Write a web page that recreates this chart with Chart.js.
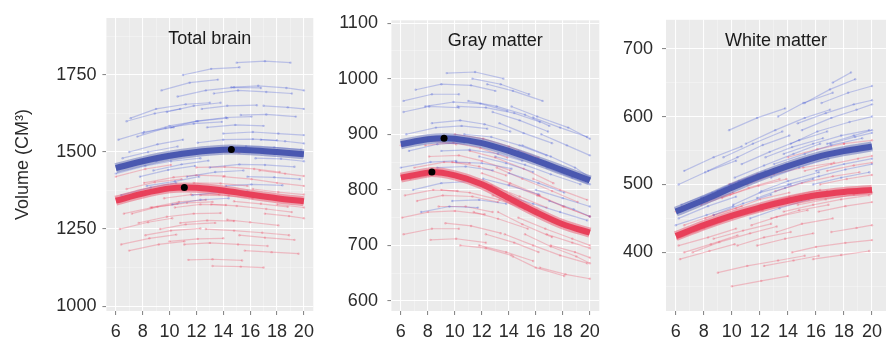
<!DOCTYPE html>
<html>
<head>
<meta charset="utf-8">
<title>Brain volume trajectories</title>
<script src="https://cdn.jsdelivr.net/npm/chart.js@4.4.1/dist/chart.umd.min.js"></script>
<style>
  html, body { margin: 0; padding: 0; background: #fff; }
  body { width: 886px; height: 341px; overflow: hidden; position: relative; }
  .panel { position: absolute; top: 0; }
</style>
</head>
<body>
<div class="panel" style="left:0"><canvas id="tb" width="320" height="341"></canvas></div>
<div class="panel" style="left:330px"><canvas id="gm" width="276" height="341"></canvas></div>
<div class="panel" style="left:610px"><canvas id="wm" width="290" height="341"></canvas></div>
<script>
const AGES = [6, 8, 10, 12, 14, 16, 18, 20];
const X_TICKS = [6, 8, 10, 12, 14, 16, 18, 20];
const X_MINOR = [7, 9, 11, 13, 15, 17, 19];

// Total brain
const tbTicks = [1000, 1250, 1500, 1750];
const tbMinor = [1125, 1375, 1625, 1875];
const tbMale = [1448, 1470, 1488, 1500, 1507, 1506, 1500, 1493];
const tbFemale = [1342, 1365, 1382, 1384, 1375, 1362, 1350, 1340];
const tbMalePeak = [14.6, 1508];
const tbFemalePeak = [11.1, 1385];
// subjects: age, volume, age, volume ...
const tbMaleSubjects = [
  [6.2,1540, 8.1,1565, 10.3,1580],
  [7.1,1610, 9.0,1640, 11.2,1655, 13.0,1660],
  [9.4,1700, 11.5,1725, 13.6,1735],
  [11.0,1750, 13.1,1770, 15.2,1775],
  [13.3,1690, 15.1,1700, 17.2,1695, 19.1,1690],
  [6.0,1430, 8.2,1455, 10.1,1470, 12.3,1480],
  [8.3,1390, 10.4,1405, 12.2,1420],
  [10.1,1580, 12.0,1600, 14.2,1612, 16.1,1615],
  [12.4,1640, 14.3,1650, 16.5,1652],
  [14.0,1560, 16.2,1565, 18.1,1560, 20.0,1555],
  [6.4,1360, 8.6,1385, 10.5,1400],
  [9.0,1470, 11.1,1490, 13.2,1502, 15.0,1505],
  [11.3,1420, 13.4,1435, 15.5,1440],
  [13.0,1450, 15.2,1460, 17.1,1458, 19.3,1452],
  [15.3,1620, 17.2,1622, 19.4,1615],
  [7.0,1500, 9.1,1525, 11.0,1540],
  [10.2,1330, 12.3,1345, 14.4,1350],
  [12.1,1530, 14.0,1540, 16.2,1542, 18.0,1538],
  [16.4,1480, 18.3,1478, 20.0,1470],
  [8.0,1560, 10.0,1585, 12.1,1600, 14.3,1610],
  [14.2,1390, 16.1,1395, 18.4,1392],
  [15.0,1790, 17.1,1795, 19.0,1790],
  [17.0,1650, 18.8,1645, 20.0,1640],
  [6.8,1600, 8.9,1625, 10.8,1640],
  [6.5,1480, 8.4,1500, 10.6,1518],
  [7.6,1550, 9.7,1578, 11.8,1592, 13.9,1598],
  [8.8,1440, 10.9,1460, 12.9,1472],
  [10.6,1680, 12.7,1700, 14.8,1710, 16.8,1708],
  [12.8,1580, 14.9,1588, 17.0,1585],
  [14.6,1710, 16.6,1715, 18.7,1708, 20.0,1700],
  [16.8,1540, 18.6,1535, 20.0,1528],
  [9.8,1630, 11.8,1650, 13.8,1660],
  [11.7,1360, 13.8,1370, 15.8,1372],
  [13.6,1510, 15.7,1518, 17.8,1515, 19.8,1508],
  [7.8,1420, 9.9,1442, 11.9,1455],
  [15.8,1420, 17.8,1418, 19.7,1412]
];
const tbFemaleSubjects = [
  [6.0,1420, 8.2,1445, 10.1,1458],
  [7.2,1300, 9.1,1322, 11.3,1335, 13.2,1338],
  [9.3,1250, 11.2,1265, 13.4,1270],
  [11.1,1200, 13.0,1205, 15.1,1200, 17.3,1195],
  [6.3,1250, 8.4,1272, 10.2,1285],
  [8.1,1400, 10.3,1418, 12.0,1425, 14.1,1422],
  [10.4,1320, 12.3,1330, 14.2,1328],
  [12.0,1450, 14.1,1452, 16.3,1445, 18.2,1435],
  [14.3,1280, 16.0,1272, 18.1,1262],
  [16.2,1380, 18.1,1370, 20.0,1362],
  [7.0,1180, 9.2,1200, 11.1,1210],
  [9.0,1480, 11.1,1495, 13.3,1500, 15.2,1498],
  [11.4,1150, 13.2,1152, 15.4,1148],
  [13.1,1330, 15.0,1325, 17.2,1315, 19.1,1305],
  [15.2,1230, 17.1,1222, 19.3,1215],
  [6.1,1340, 8.0,1362, 10.0,1378, 12.2,1384],
  [10.0,1210, 12.1,1218, 14.0,1220],
  [12.3,1360, 14.4,1358, 16.2,1350],
  [14.0,1420, 16.1,1412, 18.0,1400, 20.0,1390],
  [17.1,1300, 18.9,1292, 20.0,1285],
  [8.2,1230, 10.1,1245, 12.3,1252],
  [13.2,1130, 15.3,1128, 17.0,1125],
  [6.6,1300, 8.7,1320, 10.6,1332],
  [6.8,1380, 8.9,1402, 10.9,1412],
  [7.7,1270, 9.8,1290, 11.8,1300, 13.8,1302],
  [9.6,1350, 11.6,1362, 13.7,1362],
  [11.8,1400, 13.8,1398, 15.8,1390],
  [12.7,1250, 14.8,1245, 16.9,1238, 18.9,1230],
  [14.8,1340, 16.8,1332, 18.8,1322],
  [16.7,1440, 18.6,1430, 20.0,1422],
  [8.6,1320, 10.7,1338, 12.7,1345],
  [10.8,1270, 12.8,1278, 14.8,1276],
  [15.6,1180, 17.6,1175, 19.6,1170],
  [6.4,1200, 8.5,1220, 10.5,1232],
  [18.0,1330, 20.0,1320]
];

// Gray matter
const gmTicks = [600, 700, 800, 900, 1000, 1100];
const gmMinor = [650, 750, 850, 950, 1050];
const gmMale = [882, 891, 892, 884, 870, 853, 835, 817];
const gmFemale = [822, 831, 826, 810, 785, 760, 738, 723];
const gmMalePeak = [9.2, 893];
const gmFemalePeak = [8.3, 832];
const gmMaleSubjects = [
  [6.2,940, 8.1,950, 10.3,948],
  [7.1,980, 9.0,990, 11.2,988, 13.0,978],
  [9.4,1010, 11.5,1012, 13.6,1000],
  [11.0,960, 13.1,950, 15.2,935, 17.0,915],
  [13.3,920, 15.1,902, 17.2,884],
  [15.0,880, 17.1,860, 18.9,840, 20.0,822],
  [6.0,840, 8.2,850, 10.1,852],
  [8.3,920, 10.4,925, 12.2,918, 14.1,905],
  [10.1,850, 12.0,848, 14.2,838],
  [12.4,990, 14.3,978, 16.5,960],
  [14.0,830, 16.2,812, 18.1,795],
  [16.4,900, 18.3,880, 20.0,862],
  [6.9,800, 9.0,812, 11.0,815],
  [9.0,870, 11.1,872, 13.2,865, 15.0,852],
  [11.3,1000, 13.4,990, 15.5,972],
  [13.0,860, 15.2,845, 17.1,828, 19.3,810],
  [17.0,780, 18.8,765, 20.0,752],
  [6.4,900, 8.6,912, 10.5,915, 12.4,910],
  [10.2,950, 12.3,948, 14.4,938, 16.3,922],
  [12.1,820, 14.0,808, 16.2,792],
  [14.2,950, 16.1,932, 18.4,912, 20.0,892],
  [16.0,800, 18.0,785, 20.0,770],
  [7.5,760, 9.6,770, 11.7,768],
  [6.6,870, 8.7,882, 10.7,885],
  [7.8,950, 9.9,958, 11.9,955, 13.9,942],
  [8.7,840, 10.8,842, 12.8,835],
  [10.7,900, 12.7,895, 14.8,880, 16.8,862],
  [12.8,940, 14.8,925, 16.9,905],
  [14.7,870, 16.7,850, 18.7,832, 20.0,820],
  [16.8,840, 18.7,822, 20.0,810],
  [9.8,780, 11.8,782, 13.8,775],
  [11.8,860, 13.8,848, 15.8,832],
  [13.7,790, 15.8,775, 17.8,760, 19.8,745],
  [6.2,960, 8.3,972, 10.3,972],
  [15.8,930, 17.8,912, 19.8,895]
];
const gmFemaleSubjects = [
  [6.0,880, 8.2,888, 10.1,882],
  [7.2,780, 9.1,790, 11.3,788, 13.2,778],
  [9.3,740, 11.2,735, 13.4,722],
  [11.1,870, 13.0,858, 15.1,838, 17.3,812],
  [13.2,760, 15.0,738, 17.2,715],
  [15.2,720, 17.1,698, 19.0,680, 20.0,668],
  [6.3,790, 8.4,800, 10.2,798],
  [8.1,860, 10.3,862, 12.0,852, 14.1,835],
  [10.4,700, 12.3,695, 14.2,682],
  [12.0,830, 14.1,812, 16.3,790],
  [14.3,680, 16.0,660, 18.1,645],
  [16.2,790, 18.1,770, 20.0,752],
  [7.0,840, 9.2,850, 11.1,848],
  [9.0,800, 11.1,795, 13.3,782, 15.2,765],
  [11.4,760, 13.2,748, 15.4,730],
  [13.1,840, 15.0,820, 17.2,798, 19.1,778],
  [17.1,700, 18.9,688, 20.0,678],
  [6.1,750, 8.0,760, 10.0,762, 12.2,756],
  [10.0,900, 12.1,892, 14.0,878, 16.2,858],
  [12.3,720, 14.4,705, 16.2,688],
  [14.0,810, 16.1,790, 18.0,770, 20.0,752],
  [16.3,660, 18.2,648, 20.0,640],
  [8.2,710, 10.1,712, 12.3,705],
  [6.7,820, 8.8,828, 10.8,824],
  [7.8,880, 9.9,885, 11.9,875, 13.9,858],
  [8.8,770, 10.8,770, 12.8,760],
  [10.7,820, 12.7,808, 14.8,788, 16.8,768],
  [12.8,790, 14.8,770, 16.9,750],
  [14.7,750, 16.7,730, 18.7,712, 20.0,700],
  [16.8,720, 18.7,705, 20.0,695],
  [9.8,850, 11.8,842, 13.8,826],
  [11.8,700, 13.8,688, 15.8,672],
  [13.7,720, 15.8,700, 17.8,682, 19.8,668],
  [6.2,720, 8.3,730, 10.3,730],
  [15.8,820, 17.8,800, 19.8,782]
];

// White matter
const wmTicks = [400, 500, 600, 700];
const wmMinor = [350, 450, 550, 650];
const wmMale = [460, 477, 495, 512, 527, 540, 549, 556];
const wmFemale = [424, 440, 454, 466, 476, 484, 489, 492];
const wmMaleSubjects = [
  [6.2,500, 8.1,518, 10.3,535],
  [7.1,470, 9.0,490, 11.2,508, 13.0,522],
  [9.4,540, 11.5,560, 13.6,578],
  [11.0,560, 13.1,580, 15.2,598, 17.0,610],
  [13.3,600, 15.1,620, 17.2,635],
  [15.0,580, 17.1,598, 18.9,610, 20.0,618],
  [6.0,440, 8.2,455, 10.1,468],
  [8.3,520, 10.4,540, 12.2,558, 14.1,572],
  [10.1,470, 12.0,488, 14.2,500],
  [12.4,540, 14.3,555, 16.5,568],
  [14.0,500, 16.2,512, 18.1,522, 20.0,530],
  [16.4,620, 18.3,635, 20.0,645],
  [6.9,430, 9.0,448, 11.0,462],
  [9.0,490, 11.1,508, 13.2,522, 15.0,535],
  [11.3,450, 13.4,465, 15.5,478],
  [13.0,530, 15.2,545, 17.1,558, 19.3,568],
  [17.0,560, 18.8,570, 20.0,576],
  [6.4,470, 8.6,488, 10.5,505, 12.4,520],
  [10.2,510, 12.3,528, 14.4,545, 16.3,560],
  [12.1,490, 14.0,505, 16.2,518],
  [14.2,560, 16.1,578, 18.4,592, 20.0,600],
  [16.0,520, 18.0,530, 20.0,538],
  [17.2,650, 18.5,665],
  [15.2,620, 17.0,640, 18.8,655],
  [6.6,520, 8.7,540, 10.7,556],
  [7.8,480, 9.9,500, 11.9,515, 13.9,530],
  [8.7,455, 10.8,472, 12.8,485],
  [10.7,530, 12.7,548, 14.8,565, 16.8,578],
  [12.8,510, 14.8,525, 16.9,538],
  [14.7,590, 16.7,605, 18.7,618, 20.0,624],
  [16.8,560, 18.7,572, 20.0,580],
  [9.8,580, 11.8,598, 13.8,612],
  [11.8,480, 13.8,495, 15.8,508],
  [13.7,545, 15.8,560, 17.8,572, 19.8,580],
  [6.2,450, 8.3,468, 10.3,482],
  [15.8,500, 17.8,510, 19.8,518]
];
const wmFemaleSubjects = [
  [6.0,460, 8.2,475, 10.1,488],
  [7.2,400, 9.1,415, 11.3,428, 13.2,438],
  [9.3,480, 11.2,495, 13.4,508],
  [11.1,500, 13.0,515, 15.1,525, 17.3,532],
  [13.2,430, 15.0,442, 17.2,450],
  [15.2,520, 17.1,530, 19.0,538, 20.0,542],
  [6.3,390, 8.4,402, 10.2,412],
  [8.1,450, 10.3,465, 12.0,478, 14.1,488],
  [10.4,410, 12.3,422, 14.2,430],
  [12.0,470, 14.1,482, 16.3,492],
  [14.3,400, 16.0,408, 18.1,414, 20.0,418],
  [16.2,460, 18.1,468, 20.0,474],
  [7.0,430, 9.2,445, 11.1,458],
  [9.0,370, 11.1,380, 13.3,388, 15.2,395],
  [11.4,440, 13.2,452, 15.4,462],
  [13.1,490, 15.0,502, 17.2,512, 19.1,518],
  [17.1,430, 18.9,436, 20.0,440],
  [6.1,420, 8.0,435, 10.0,450, 12.2,462],
  [10.0,350, 12.1,358, 14.0,365],
  [12.3,380, 14.4,388, 16.2,395],
  [14.0,540, 16.1,552, 18.0,560],
  [16.3,500, 18.2,508, 20.0,514],
  [18.0,560, 20.0,565],
  [6.6,400, 8.5,412, 10.4,425],
  [6.6,440, 8.7,455, 10.7,468],
  [7.8,470, 9.9,485, 11.9,498, 13.9,508],
  [8.7,420, 10.8,432, 12.8,442],
  [10.7,460, 12.7,472, 14.8,482, 16.8,490],
  [12.8,450, 14.8,462, 16.9,470],
  [14.7,470, 16.7,478, 18.7,485, 20.0,488],
  [16.8,520, 18.7,528, 20.0,532],
  [9.8,500, 11.8,515, 13.8,525],
  [11.8,410, 13.8,420, 15.8,428],
  [13.7,460, 15.8,470, 17.8,478, 19.8,484],
  [6.2,410, 8.3,422, 10.3,435],
  [15.8,390, 17.8,396, 19.8,402]
];

const FONT = '"Liberation Sans", Arial, Helvetica, sans-serif';
const MALE = '#4a58b0';
const FEMALE = '#e8405a';
const MALE_THIN = 'rgba(70, 90, 215, 0.30)';
const FEMALE_THIN = 'rgba(240, 70, 95, 0.30)';

function toPoints(flat) {
  const pts = [];
  for (let i = 0; i < flat.length; i += 2) pts.push({ x: flat[i], y: flat[i + 1] });
  return pts;
}

function curvePoints(values, peak) {
  const pts = AGES.map((a, i) => ({ x: a, y: values[i] }));
  if (peak) pts.push({ x: peak[0], y: peak[1] });
  return pts.sort((a, b) => a.x - b.x);
}

// grey panel background like ggplot
const panelBg = {
  id: 'panelBg',
  beforeDraw(chart) {
    const { ctx, chartArea: a } = chart;
    ctx.save();
    ctx.fillStyle = '#ebebeb';
    ctx.fillRect(a.left, a.top, a.right - a.left, a.bottom - a.top);
    ctx.restore();
  }
};

// panel name printed inside the top of the plot area
const panelLabel = {
  id: 'panelLabel',
  afterDraw(chart, args, opts) {
    if (!opts.text) return;
    const { ctx, chartArea: a } = chart;
    ctx.save();
    ctx.font = `18px ${FONT}`;
    ctx.fillStyle = '#1a1a1a';
    ctx.textAlign = 'center';
    ctx.textBaseline = 'middle';
    ctx.fillText(opts.text, (a.left + a.right) / 2, a.top + 21);
    ctx.restore();
  }
};

function subjectSets(list, color) {
  return list.map(s => ({
    data: toPoints(s),
    borderColor: color,
    borderWidth: 1.2,
    pointRadius: 1.2,
    pointBorderWidth: 0,
    pointBackgroundColor: color,
    tension: 0,
    order: 5
  }));
}

function curveSets(values, peak, color) {
  const pts = curvePoints(values, peak);
  const sets = [
    { data: pts, borderColor: color + '70', borderWidth: 10, pointRadius: 0, cubicInterpolationMode: 'monotone', order: 3 },
    { data: pts, borderColor: color, borderWidth: 6, pointRadius: 0, cubicInterpolationMode: 'monotone', order: 2 }
  ];
  if (peak) {
    sets.push({
      data: [{ x: peak[0], y: peak[1] }],
      showLine: false,
      pointRadius: 3.5,
      pointBorderWidth: 0,
      pointBackgroundColor: '#000',
      order: 0
    });
  }
  return sets;
}

function makePanel(id, cfg) {
  const ctx = document.getElementById(id).getContext('2d');
  const yMajor = new Set(cfg.yTicks);
  const xMajor = new Set(X_TICKS);

  const datasets = [
    ...curveSets(cfg.male, cfg.malePeak, MALE),
    ...curveSets(cfg.female, cfg.femalePeak, FEMALE),
    ...subjectSets(cfg.maleSubjects, MALE_THIN),
    ...subjectSets(cfg.femaleSubjects, FEMALE_THIN)
  ];

  return new Chart(ctx, {
    type: 'line',
    data: { datasets },
    plugins: [panelBg, panelLabel],
    options: {
      responsive: false,
      animation: false,
      events: [],
      layout: { autoPadding: false, padding: { top: 18, right: cfg.padRight, left: 0, bottom: 0 } },
      plugins: {
        legend: { display: false },
        tooltip: { enabled: false },
        panelLabel: { text: cfg.title }
      },
      scales: {
        x: {
          type: 'linear',
          min: 5.3,
          max: cfg.xMax,
          afterBuildTicks: s => { s.ticks = [...X_TICKS, ...X_MINOR].sort((a, b) => a - b).map(v => ({ value: v })); },
          afterFit: s => { s.height = 30; },
          border: { display: false },
          grid: {
            color: c => xMajor.has(c.tick.value) ? 'rgba(255,255,255,0.95)' : 'rgba(255,255,255,0.55)',
            lineWidth: c => xMajor.has(c.tick.value) ? 1.1 : 0.6,
            tickColor: c => xMajor.has(c.tick.value) ? '#8a8a8a' : 'rgba(0,0,0,0)',
            tickLength: 4
          },
          ticks: {
            autoSkip: false,
            maxRotation: 0,
            padding: 6,
            color: '#2b2b2b',
            font: { family: FONT, size: 18 },
            callback: v => xMajor.has(v) ? String(v) : ''
          }
        },
        y: {
          type: 'linear',
          min: cfg.yMin,
          max: cfg.yMax,
          afterBuildTicks: s => { s.ticks = [...cfg.yTicks, ...cfg.yMinor].sort((a, b) => a - b).map(v => ({ value: v })); },
          afterFit: s => { s.width = cfg.yWidth; },
          border: { display: false },
          grid: {
            color: c => yMajor.has(c.tick.value) ? 'rgba(255,255,255,0.95)' : 'rgba(255,255,255,0.55)',
            lineWidth: c => yMajor.has(c.tick.value) ? 1.1 : 0.6,
            tickColor: c => yMajor.has(c.tick.value) ? '#8a8a8a' : 'rgba(0,0,0,0)',
            tickLength: 4
          },
          ticks: {
            autoSkip: false,
            padding: cfg.labelPad,
            color: '#2b2b2b',
            font: { family: FONT, size: 18 },
            callback: v => yMajor.has(v) ? String(v) : ''
          },
          title: {
            display: !!cfg.yTitle,
            text: cfg.yTitle || '',
            color: '#2b2b2b',
            font: { family: FONT, size: 18 },
            padding: { top: 12, bottom: 0 }
          }
        }
      }
    }
  });
}

makePanel('tb', {
  title: 'Total brain', yTitle: 'Volume (CM³)',
  xMax: 20.7, yMin: 984, yMax: 1935, yTicks: tbTicks, yMinor: tbMinor,
  male: tbMale, female: tbFemale, malePeak: tbMalePeak, femalePeak: tbFemalePeak,
  maleSubjects: tbMaleSubjects, femaleSubjects: tbFemaleSubjects,
  yWidth: 106.4, labelPad: 6, padRight: 2.4
});

makePanel('gm', {
  title: 'Gray matter',
  xMax: 20.7, yMin: 582, yMax: 1105, yTicks: gmTicks, yMinor: gmMinor,
  male: gmMale, female: gmFemale, malePeak: gmMalePeak, femalePeak: gmFemalePeak,
  maleSubjects: gmMaleSubjects, femaleSubjects: gmFemaleSubjects,
  yWidth: 61.4, labelPad: 9.5, padRight: 3.4
});

makePanel('wm', {
  title: 'White matter',
  xMax: 21.0, yMin: 313.6, yMax: 742.5, yTicks: wmTicks, yMinor: wmMinor,
  male: wmMale, female: wmFemale, malePeak: null, femalePeak: null,
  maleSubjects: wmMaleSubjects, femaleSubjects: wmFemaleSubjects,
  yWidth: 56, labelPad: 9, padRight: 14
});
</script>
</body>
</html>
